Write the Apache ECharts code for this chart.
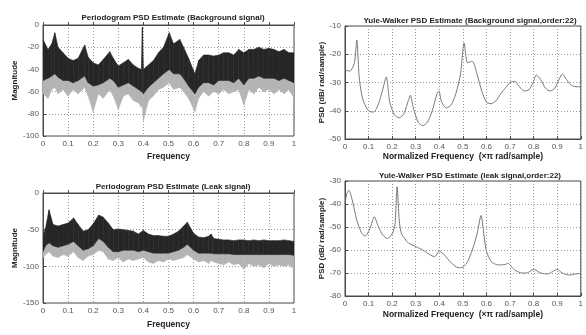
<!DOCTYPE html>
<html>
<head>
<meta charset="utf-8">
<title>PSD Estimate</title>
<script src="https://cdn.jsdelivr.net/npm/echarts@6/dist/echarts.min.js"></script>
<style>
	html, body { margin: 0; padding: 0; background: #fff; }
	#chart { width: 586px; height: 335px; }
</style>
</head>
<body>
<div id="chart"></div>
<script>
/*
 * 周期图：上沿、致密区下沿、毛刺下沿
 */
var bgFreq = [0, 0.02, 0.035, 0.047, 0.06, 0.08, 0.1, 0.12, 0.14, 0.166, 0.18, 0.2, 0.22, 0.24, 0.266,
	0.28, 0.3, 0.32, 0.34, 0.36, 0.38, 0.392, 0.396, 0.4, 0.42, 0.44, 0.46, 0.48, 0.503, 0.52,
	0.545, 0.56, 0.58, 0.605, 0.62, 0.64, 0.66, 0.68, 0.7, 0.72, 0.74, 0.76, 0.78, 0.8, 0.82,
	0.84, 0.86, 0.88, 0.9, 0.92, 0.94, 0.96, 0.98, 1];
var bgUpper = [-13, -22, -17, -7, -20, -25, -30, -32, -30, -18, -29, -34, -36, -31, -24,
	-30, -37, -34, -31, -36, -39, -40, -2, -40, -36, -32, -25, -20, -7, -17,
	-13, -20, -30, -44, -32, -27, -27, -28, -27, -25, -25, -27, -22, -25, -22,
	-22, -20, -22, -21, -22, -24, -22, -25, -25];
var bgCore = [-50, -48, -46, -44, -47, -50, -50, -52, -50, -46, -52, -55, -54, -52, -48,
	-50, -56, -54, -52, -55, -58, -60, -60, -62, -56, -52, -48, -44, -40, -44,
	-44, -48, -55, -62, -56, -52, -52, -54, -50, -50, -50, -52, -48, -54, -48,
	-48, -46, -48, -48, -48, -50, -48, -50, -52];
var bgLow = [-62, -66, -58, -56, -62, -58, -64, -58, -62, -56, -64, -78, -62, -66, -58,
	-64, -76, -64, -62, -68, -70, -74, -72, -86, -68, -64, -58, -56, -52, -58,
	-56, -60, -66, -78, -66, -60, -64, -60, -62, -58, -62, -60, -58, -72, -58,
	-62, -56, -60, -58, -62, -58, -62, -58, -66];

var lkFreq = [0, 0.01, 0.024, 0.04, 0.06, 0.08, 0.1, 0.122, 0.14, 0.16, 0.18, 0.2, 0.222, 0.24, 0.26,
	0.28, 0.3, 0.32, 0.34, 0.36, 0.38, 0.4, 0.42, 0.44, 0.46, 0.48, 0.5, 0.52, 0.54, 0.56,
	0.575, 0.6, 0.62, 0.64, 0.66, 0.67, 0.68, 0.7, 0.72, 0.74, 0.76, 0.78, 0.8, 0.82, 0.84,
	0.86, 0.88, 0.9, 0.92, 0.94, 0.96, 0.98, 1];
var lkUpper = [-58, -48, -23, -43, -45, -43, -41, -34, -43, -52, -50, -42, -30, -33, -41,
	-50, -49, -50, -51, -52, -56, -51, -56, -58, -58, -59, -59, -56, -52, -45,
	-40, -55, -60, -61, -59, -56, -62, -63, -64, -64, -65, -64, -64, -65, -64,
	-65, -64, -65, -65, -65, -64, -65, -66];
var lkCore = [-80, -72, -68, -72, -74, -72, -70, -66, -72, -78, -76, -72, -62, -66, -74,
	-80, -80, -78, -78, -78, -80, -78, -80, -82, -82, -82, -82, -80, -78, -74,
	-70, -78, -82, -82, -82, -82, -83, -83, -83, -83, -84, -84, -84, -84, -84,
	-84, -84, -84, -84, -84, -84, -84, -85];
var lkLow = [-88, -84, -80, -86, -88, -84, -86, -80, -88, -92, -86, -84, -78, -80, -90,
	-92, -88, -94, -90, -92, -90, -88, -94, -96, -92, -94, -90, -92, -90, -88,
	-84, -90, -94, -92, -96, -92, -94, -96, -98, -94, -98, -96, -104, -96, -100,
	-98, -102, -96, -100, -98, -100, -98, -104];

/*
 * Yule-Walker 曲线
 */
var ywBgFreq = [0, 0.02, 0.04, 0.05, 0.06, 0.07, 0.08, 0.1, 0.12, 0.14, 0.16, 0.175, 0.19, 0.21, 0.23,
	0.25, 0.27, 0.277, 0.29, 0.31, 0.33, 0.35, 0.37, 0.39, 0.398, 0.41, 0.43, 0.45, 0.47, 0.49,
	0.505, 0.52, 0.54, 0.56, 0.58, 0.6, 0.62, 0.64, 0.66, 0.68, 0.7, 0.72, 0.74, 0.76, 0.78,
	0.8, 0.811, 0.83, 0.85, 0.87, 0.89, 0.91, 0.922, 0.94, 0.96, 0.98, 1];
var ywBgVal = [-25.5, -26, -23, -15, -28, -34, -37, -40, -40.5, -38, -32.5, -28, -37, -41.5, -42.5,
	-41, -36, -34.5, -39, -44, -45.3, -44, -40, -34, -33, -37, -39, -38, -34, -27,
	-16, -23, -22.5, -27, -33, -37, -37.5, -36.5, -34, -32, -30, -29.6, -31.5, -33, -32.6,
	-29.6, -27.3, -29, -32, -33, -32, -28.5, -27, -29, -31, -31.5, -31.5];

var ywLkFreq = [0, 0.008, 0.016, 0.03, 0.05, 0.07, 0.085, 0.1, 0.11, 0.124, 0.14, 0.16, 0.18, 0.2, 0.212,
	0.221, 0.23, 0.24, 0.27, 0.3, 0.33, 0.36, 0.38, 0.4, 0.42, 0.45, 0.48, 0.5, 0.52, 0.54,
	0.56, 0.577, 0.59, 0.6, 0.62, 0.65, 0.68, 0.69, 0.72, 0.75, 0.77, 0.8, 0.83, 0.86, 0.88,
	0.9, 0.92, 0.95, 0.98, 1];
var ywLkVal = [-39.7, -35.5, -34, -38, -47, -52.5, -54, -52, -49.5, -45.5, -49.5, -53.5, -55, -53, -49,
	-32.5, -47, -53, -57, -58.5, -60, -62, -63, -60.5, -62, -65.5, -67.7, -67.5, -65, -60,
	-53, -45, -54, -60.5, -65, -66.5, -66.3, -65.8, -68.7, -70, -70, -68.4, -70, -70.4, -69.4,
	-68.4, -69.9, -70.9, -70.4, -70.2];

var yTicksBg = [-100, 0, 20];
var yTicksLk = [-150, 0, 50];
var yTicksYwBg = [-50, -10, 10];
var yTicksYwLk = [-80, -30, 10];

(function(window)
{
	var FONT = "Liberation Sans";
	var AXIS_COLOR = "#4a4a4a";

	var pairs = function(xs, ys)
	{
		var re = [];
		for(var i=0; i<xs.length; i++)
			re[i] = [xs[i], ys[i]];
		return re;
	};

	/**
	 * 带状区段数据：[x0, 上0, 下0, x1, 上1, 下1]。
	 */
	var segments = function(xs, top, bottom)
	{
		var re = [];
		for(var i=0; i<xs.length-1; i++)
			re.push([xs[i], top[i], bottom[i], xs[i+1], top[i+1], bottom[i+1]]);
		return re;
	};

	var xAxisOf = function(gridIndex, name, nameGap)
	{
		return {
			type: "value", gridIndex: gridIndex, min: 0, max: 1, interval: 0.1,
			name: name, nameLocation: "middle", nameGap: nameGap,
			nameTextStyle: { fontFamily: FONT, fontSize: 8.5, fontWeight: "bold", color: "#222" },
			axisLine: { show: true, lineStyle: { color: AXIS_COLOR, width: 1 } },
			axisTick: { show: true, inside: true, length: 3, lineStyle: { color: AXIS_COLOR } },
			axisLabel: { fontFamily: FONT, fontSize: 8, color: "#555", margin: 4 },
			splitLine: { show: true, lineStyle: { color: "#9a9a9a", type: [1, 2], width: 1 } }
		};
	};

	var yAxisOf = function(gridIndex, ticks, name, nameGap)
	{
		return {
			type: "value", gridIndex: gridIndex, min: ticks[0], max: ticks[1], interval: ticks[2],
			name: name, nameLocation: "middle", nameGap: nameGap,
			nameTextStyle: { fontFamily: FONT, fontSize: 8, fontWeight: "bold", color: "#222" },
			axisLine: { show: true, lineStyle: { color: AXIS_COLOR, width: 1 } },
			axisTick: { show: true, inside: true, length: 3, lineStyle: { color: AXIS_COLOR } },
			axisLabel: { fontFamily: FONT, fontSize: 8, color: "#555", margin: 4 },
			splitLine: { show: true, lineStyle: { color: "#9a9a9a", type: [1, 2], width: 1 } }
		};
	};

	// 周期图的一条带：在两条包络之间填充
	var bandSeries = function(idx, freq, top, bottom, color)
	{
		return {
			type: "custom", xAxisIndex: idx, yAxisIndex: idx, silent: true, clip: true,
			data: segments(freq, top, bottom),
			encode: { x: [0, 3], y: [1, 2, 4, 5] },
			renderItem: function(params, api)
			{
				var a = api.coord([api.value(0), api.value(1)]);
				var b = api.coord([api.value(3), api.value(4)]);
				var c = api.coord([api.value(3), api.value(5)]);
				var d = api.coord([api.value(0), api.value(2)]);

				return {
					type: "polygon",
					shape: { points: [a, b, c, d] },
					style: { fill: color, stroke: color, lineWidth: 0.6 }
				};
			}
		};
	};

	var lineSeries = function(idx, freq, vals)
	{
		return {
			type: "line", xAxisIndex: idx, yAxisIndex: idx, data: pairs(freq, vals),
			showSymbol: false, symbol: "none", silent: true, smooth: 0.25,
			lineStyle: { color: "#7a7a7a", width: 1 }
		};
	};

	var titleOf = function(text, centerX, top)
	{
		return {
			text: text, left: centerX, top: top, textAlign: "center",
			textStyle: { fontFamily: FONT, fontSize: 8, fontWeight: "bold", color: "#222" }
		};
	};

	var gridOf = function(left, top, width, height)
	{
		return {
			left: left, top: top, width: width, height: height,
			show: true, borderColor: AXIS_COLOR, borderWidth: 1, backgroundColor: "#fff"
		};
	};

	var series = [
		bandSeries(0, bgFreq, bgCore, bgLow, "#b4b4b4"),
		bandSeries(0, bgFreq, bgUpper, bgCore, "#262626"),
		lineSeries(1, ywBgFreq, ywBgVal),
		bandSeries(2, lkFreq, lkCore, lkLow, "#b4b4b4"),
		bandSeries(2, lkFreq, lkUpper, lkCore, "#262626"),
		lineSeries(3, ywLkFreq, ywLkVal)
	];

	var option =
	{
		animation: false,
		backgroundColor: "#fff",
		textStyle: { fontFamily: FONT },
		title: [
			titleOf("Periodogram PSD Estimate (Background signal)", 168, 9),
			titleOf("Yule-Walker PSD Estimate (Background signal,order:22)", 465, 12),
			titleOf("Periodogram PSD Estimate (Leak signal)", 168, 178),
			titleOf("Yule-Walker PSD Estimate (leak signal,order:22)", 465, 167)
		],
		grid: [
			gridOf(43, 25, 251, 111),
			gridOf(345, 26, 240, 113),
			gridOf(43, 193, 251, 110),
			gridOf(345, 181, 240, 115)
		],
		xAxis: [
			xAxisOf(0, "Frequency", 16),
			xAxisOf(1, "Normalized Frequency  (\u00d7\u03c0 rad/sample)", 13),
			xAxisOf(2, "Frequency", 17),
			xAxisOf(3, "Normalized Frequency  (\u00d7\u03c0 rad/sample)", 14)
		],
		yAxis: [
			yAxisOf(0, yTicksBg, "Magnitude", 23),
			yAxisOf(1, yTicksYwBg, "PSD (dB/ rad/sample)", 18),
			yAxisOf(2, yTicksLk, "Magnitude", 23),
			yAxisOf(3, yTicksYwLk, "PSD (dB/ rad/sample)", 16)
		],
		series: series
	};

	var chart = echarts.init(document.getElementById("chart"), null, { renderer: "canvas" });
	chart.setOption(option);
})
(window);
</script>
</body>
</html>
